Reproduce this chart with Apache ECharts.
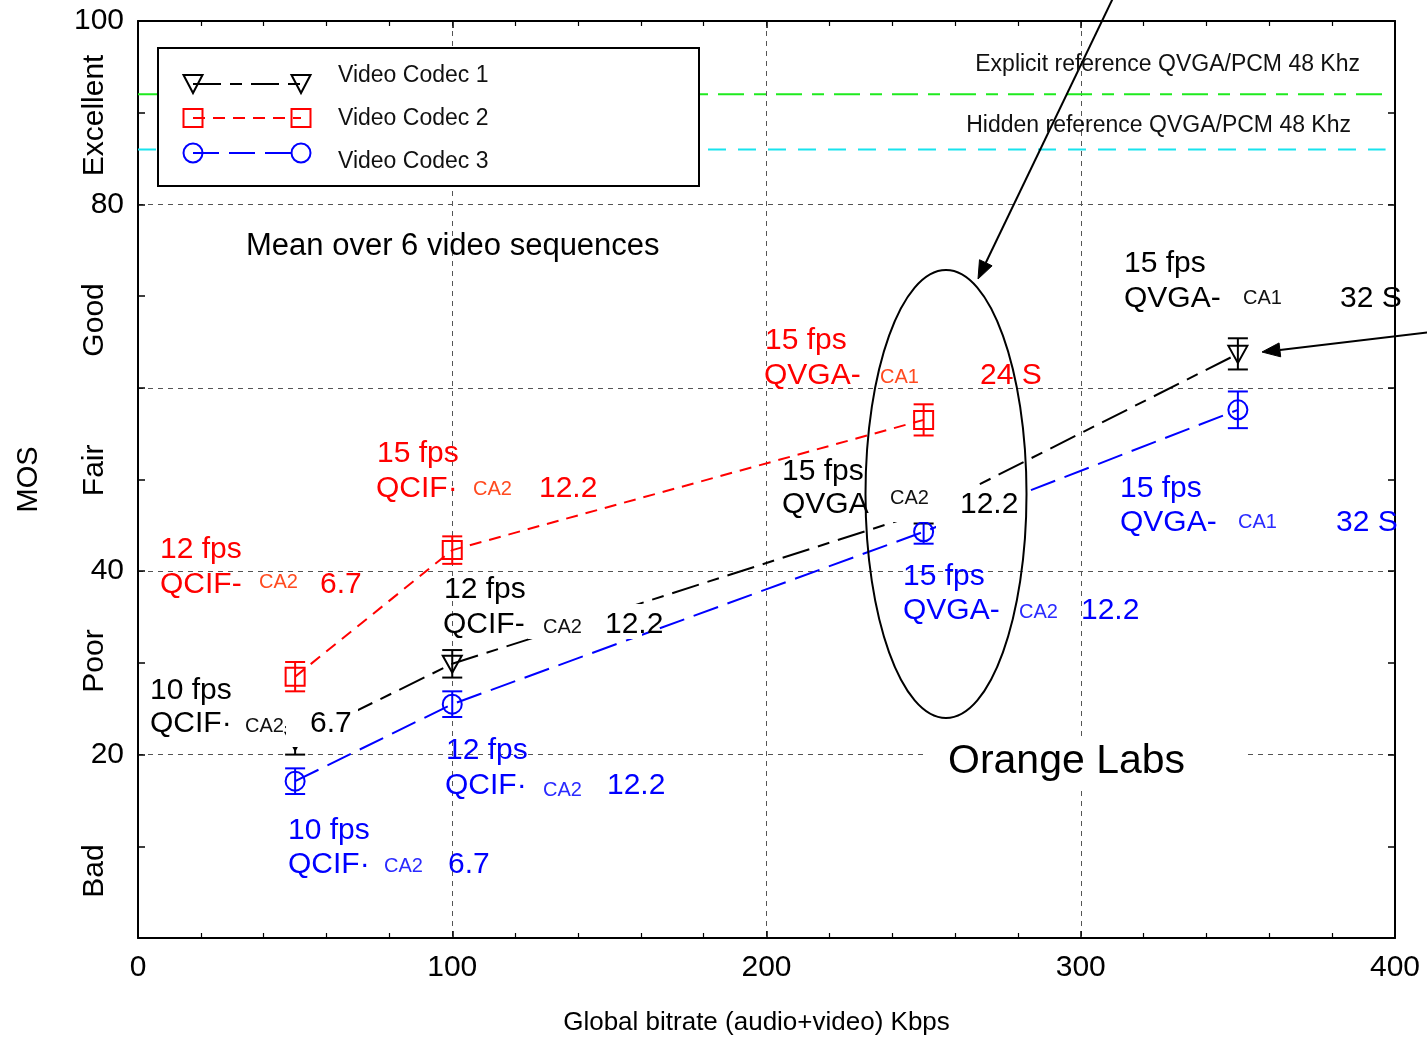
<!DOCTYPE html>
<html><head><meta charset="utf-8">
<script src="https://cdn.jsdelivr.net/npm/echarts@6/dist/echarts.min.js"></script>
<style>html,body{margin:0;padding:0;background:#fff}#c{width:1427px;height:1041px}</style>
</head><body><div id="c"></div>
<script>
// ---------- DATA ----------
const bitrate1 = [50, 100, 250, 350];
const codec1 = [21.5, 29.9, 46.4, 63.7];
const codec1Err = [1.5, 1.5, 1.2, 1.7];
const bitrate2 = [50, 100, 250];
const codec2 = [28.5, 42.3, 56.5];
const codec2Err = [1.6, 1.5, 1.7];
const bitrate3 = [50, 100, 250, 350];
const codec3 = [17.1, 25.5, 44.3, 57.6];
const codec3Err = [1.4, 1.4, 1.3, 2.0];
const explicitRef = 92;
const hiddenRef = 86;
const refSpan = [0, 397];
const seriesNames = ['Video Codec 1', 'Video Codec 2', 'Video Codec 3'];
const yTickShown = [20, 40, 80, 100];
const qualityLabels = ['Excellent', 'Good', 'Fair', 'Poor', 'Bad'];
const qualityLevels = [89.7, 67.4, 51.0, 30.2, 7.3];

// ---------- STYLE / LAYOUT ----------
const FONT = '"Liberation Sans", Arial, Helvetica, sans-serif';
const RED = '#ff0000', BLUE = '#0000ff', BLACK = '#000000';
const dash1 = [28, 9, 12, 9], dash2 = [12, 8], dash3 = [26, 10];

const chart = echarts.init(document.getElementById('c'), null, {renderer: 'canvas'});

function pairs(xs, ys) { return xs.map((x, i) => [x, ys[i]]); }

function markerSeries(name, xs, ys, errs, color, shape) {
  return {
    type: 'custom', name: name, z: 4, silent: true,
    data: xs.map((x, i) => [x, ys[i], errs[i]]),
    renderItem: function (params, api) {
      const x = api.value(0), y = api.value(1), e = api.value(2);
      const c = api.coord([x, y]), t = api.coord([x, y + e]), b = api.coord([x, y - e]);
      const cw = 10, st = {stroke: color, lineWidth: 2, fill: 'none'};
      const ch = [
        {type: 'line', shape: {x1: c[0], y1: t[1], x2: c[0], y2: b[1]}, style: st},
        {type: 'line', shape: {x1: c[0] - cw, y1: t[1], x2: c[0] + cw, y2: t[1]}, style: st},
        {type: 'line', shape: {x1: c[0] - cw, y1: b[1], x2: c[0] + cw, y2: b[1]}, style: st}
      ];
      if (shape === 'circle') ch.push({type: 'circle', shape: {cx: c[0], cy: c[1], r: 9.5}, style: st});
      else if (shape === 'rect') ch.push({type: 'rect', shape: {x: c[0] - 9.5, y: c[1] - 9, width: 19, height: 18}, style: st});
      else ch.push({type: 'polygon', shape: {points: [[c[0] - 9.5, c[1] - 8], [c[0] + 9.5, c[1] - 8], [c[0], c[1] + 9]]}, style: st});
      return {type: 'group', children: ch};
    }
  };
}

const option = {
  backgroundColor: '#fff',
  animation: false,
  grid: {left: 138, right: 32, top: 21, bottom: 97, containLabel: false},
  xAxis: [{
    type: 'value', min: 0, max: 400, interval: 100, position: 'bottom',
    axisLine: {show: true, onZero: false, lineStyle: {color: '#000', width: 2}},
    axisTick: {show: true, inside: true, length: 7, lineStyle: {color: '#000', width: 1.5}},
    minorTick: {show: true, splitNumber: 5, length: 5, lineStyle: {color: '#000', width: 1.2}},
    axisLabel: {fontSize: 30, color: '#000', margin: 15, fontFamily: FONT},
    splitLine: {show: true, lineStyle: {type: [5, 5], color: '#555', width: 1}},
    name: 'Global bitrate (audio+video) Kbps', nameLocation: 'middle', nameGap: 72,
    nameTextStyle: {fontSize: 26, color: '#000', fontFamily: FONT, padding: [0, 20, 0, 0]}
  }, {
    type: 'value', min: 0, max: 400, interval: 100, position: 'top',
    axisLine: {show: true, onZero: false, lineStyle: {color: '#000', width: 2}},
    axisTick: {show: true, inside: true, length: 7, lineStyle: {color: '#000', width: 1.5}},
    minorTick: {show: true, splitNumber: 5, length: 5, lineStyle: {color: '#000', width: 1.2}},
    axisLabel: {show: false}, splitLine: {show: false}
  }],
  yAxis: [{
    type: 'value', min: 0, max: 100, interval: 20, position: 'left',
    axisLine: {show: true, onZero: false, lineStyle: {color: '#000', width: 2}},
    axisTick: {show: true, inside: true, length: 7, lineStyle: {color: '#000', width: 1.5}},
    minorTick: {show: true, splitNumber: 2, length: 7, lineStyle: {color: '#000', width: 1.5}},
    axisLabel: {fontSize: 30, color: '#000', margin: 14, fontFamily: FONT,
      formatter: v => yTickShown.indexOf(v) >= 0 ? String(v) : ''},
    splitLine: {show: true, lineStyle: {type: [5, 5], color: '#555', width: 1}},
    name: 'MOS', nameLocation: 'middle', nameGap: 95,
    nameTextStyle: {fontSize: 29, color: '#000', fontFamily: FONT}
  }, {
    type: 'value', min: 0, max: 100, interval: 20, position: 'right',
    axisLine: {show: true, onZero: false, lineStyle: {color: '#000', width: 2}},
    axisTick: {show: true, inside: true, length: 7, lineStyle: {color: '#000', width: 1.5}},
    minorTick: {show: true, splitNumber: 2, length: 7, lineStyle: {color: '#000', width: 1.5}},
    axisLabel: {show: false}, splitLine: {show: false}
  }],
  series: [
    {type: 'line', name: 'Explicit reference', data: [[refSpan[0], explicitRef], [refSpan[1], explicitRef]],
     symbol: 'none', silent: true, z: 1, lineStyle: {color: '#1fea1f', width: 2, type: [26, 10, 12, 10]}},
    {type: 'line', name: 'Hidden reference', data: [[refSpan[0], hiddenRef], [refSpan[1], hiddenRef]],
     symbol: 'none', silent: true, z: 1, lineStyle: {color: '#19e3ee', width: 2, type: [18, 12]}},
    {type: 'line', name: seriesNames[0], data: pairs(bitrate1, codec1), symbol: 'none', z: 2,
     lineStyle: {color: BLACK, width: 2, type: dash1}},
    {type: 'line', name: seriesNames[1], data: pairs(bitrate2, codec2), symbol: 'none', z: 2,
     lineStyle: {color: RED, width: 2, type: dash2}},
    {type: 'line', name: seriesNames[2], data: pairs(bitrate3, codec3), symbol: 'none', z: 2,
     lineStyle: {color: BLUE, width: 2, type: dash3}},
    markerSeries(seriesNames[0] + ' markers', bitrate1, codec1, codec1Err, BLACK, 'triangle'),
    markerSeries(seriesNames[1] + ' markers', bitrate2, codec2, codec2Err, RED, 'rect'),
    markerSeries(seriesNames[2] + ' markers', bitrate3, codec3, codec3Err, BLUE, 'circle')
  ]
};
chart.setOption(option);

// ---------- ANNOTATIONS ----------
const g = [];
function txt(s, x, y, size, color, align) {
  g.push({type: 'text', x: x, y: y, z: 120, silent: true,
    style: {text: s, fontSize: size, fontFamily: FONT, fill: color,
            align: align || 'left', textAlign: align || 'left', verticalAlign: 'middle', textVerticalAlign: 'middle'}});
}
function whiteBox(x0, y0, x1, y1) {
  g.push({type: 'rect', z: 110, silent: true, shape: {x: x0, y: y0, width: x1 - x0, height: y1 - y0},
          style: {fill: '#fff', stroke: null}});
}
// boxes hiding parts of lines, as in the original figure
whiteBox(286, 706, 358, 747);
whiteBox(528, 604, 642, 639);
whiteBox(882, 486, 936, 522);
whiteBox(936, 486, 1025, 528);
whiteBox(925, 740, 1247, 786);

const CA_RED = '#ff4a1f', CA_BLUE = '#2a2aff', CA_BLACK = '#111';
const labels = [
  // red
  ['12 fps', 160, 550, 30, RED], ['QCIF-', 160, 585, 30, RED], ['CA2', 259, 582, 20, CA_RED], ['6.7', 320, 585, 30, RED],
  ['15 fps', 377, 454, 30, RED], ['QCIF·', 376, 489, 30, RED], ['CA2', 473, 489, 20, CA_RED], ['12.2', 539, 489, 30, RED],
  ['15 fps', 765, 341, 30, RED], ['QVGA-', 764, 376, 30, RED], ['CA1', 880, 377, 20, CA_RED], ['24 S', 980, 376, 30, RED],
  // black
  ['15 fps', 1124, 264, 30, BLACK], ['QVGA-', 1124, 299, 30, BLACK], ['CA1', 1243, 298, 20, CA_BLACK], ['32 S', 1340, 299, 30, BLACK],
  ['15 fps', 782, 472, 30, BLACK], ['QVGA', 782, 505, 30, BLACK], ['CA2', 890, 498, 20, CA_BLACK], ['12.2', 960, 505, 30, BLACK],
  ['12 fps', 444, 590, 30, BLACK], ['QCIF-', 443, 625, 30, BLACK], ['CA2', 543, 627, 20, CA_BLACK], ['12.2', 605, 625, 30, BLACK],
  ['10 fps', 150, 691, 30, BLACK], ['QCIF·', 150, 724, 30, BLACK], ['CA2', 245, 726, 20, CA_BLACK], ['6.7', 310, 724, 30, BLACK],
  // blue
  ['15 fps', 1120, 489, 30, BLUE], ['QVGA-', 1120, 523, 30, BLUE], ['CA1', 1238, 522, 20, CA_BLUE], ['32 S', 1336, 523, 30, BLUE],
  ['15 fps', 903, 577, 30, BLUE], ['QVGA-', 903, 611, 30, BLUE], ['CA2', 1019, 612, 20, CA_BLUE], ['12.2', 1081, 611, 30, BLUE],
  ['12 fps', 446, 751, 30, BLUE], ['QCIF·', 445, 786, 30, BLUE], ['CA2', 543, 790, 20, CA_BLUE], ['12.2', 607, 786, 30, BLUE],
  ['10 fps', 288, 831, 30, BLUE], ['QCIF·', 288, 865, 30, BLUE], ['CA2', 384, 866, 20, CA_BLUE], ['6.7', 448, 865, 30, BLUE]
];
labels.forEach(l => txt(l[0], l[1], l[2], l[3], l[4]));

txt('Mean over 6 video sequences', 246, 246, 31, BLACK);
txt('Orange Labs', 948, 762, 41, BLACK);
txt('Explicit reference QVGA/PCM 48 Khz', 1360, 65, 23, '#111', 'right');
txt('Hidden reference QVGA/PCM 48 Khz', 1351, 126, 23, '#111', 'right');

// quality words on the left (rotated)
qualityLabels.forEach((q, i) => {
  const py = chart.convertToPixel({yAxisIndex: 0}, qualityLevels[i]);
  g.push({type: 'text', x: 95, y: py, rotation: Math.PI / 2, z: 120, silent: true,
    style: {text: q, fontSize: 30, fontFamily: FONT, fill: '#000', align: 'center', textAlign: 'center',
            verticalAlign: 'middle', textVerticalAlign: 'middle'}});
});

// legend box
g.push({type: 'rect', z: 100, silent: true, shape: {x: 158, y: 48, width: 541, height: 138},
        style: {fill: '#fff', stroke: '#000', lineWidth: 2}});
const legRows = [
  {y: 84, ty: 76, color: BLACK, dash: dash1, shape: 'triangle', name: seriesNames[0]},
  {y: 118, ty: 119, color: RED, dash: dash2, shape: 'rect', name: seriesNames[1]},
  {y: 153, ty: 162, color: BLUE, dash: dash3, shape: 'circle', name: seriesNames[2]}
];
legRows.forEach(r => {
  g.push({type: 'line', z: 105, silent: true, shape: {x1: 193, y1: r.y, x2: 301, y2: r.y},
          style: {stroke: r.color, lineWidth: 2, lineDash: r.dash}});
  [193, 301].forEach(cx => {
    const st = {stroke: r.color, lineWidth: 2, fill: 'none'};
    if (r.shape === 'circle') g.push({type: 'circle', z: 106, silent: true, shape: {cx: cx, cy: r.y, r: 9.5}, style: st});
    else if (r.shape === 'rect') g.push({type: 'rect', z: 106, silent: true, shape: {x: cx - 9.5, y: r.y - 9, width: 19, height: 18}, style: st});
    else g.push({type: 'polygon', z: 106, silent: true, shape: {points: [[cx - 9.5, r.y - 9], [cx + 9.5, r.y - 9], [cx, r.y + 9]]}, style: st});
  });
  txt(r.name, 338, r.ty, 23, '#111');
});

// ellipse
g.push({type: 'ellipse', z: 115, silent: true, shape: {cx: 946, cy: 494, rx: 80.5, ry: 224},
        style: {fill: 'none', stroke: '#000', lineWidth: 2}});

// arrows
function arrow(x0, y0, x1, y1) {
  const dx = x1 - x0, dy = y1 - y0, L = Math.hypot(dx, dy), ux = dx / L, uy = dy / L;
  const hl = 18, hw = 7;
  const bx = x1 - hl * ux, by = y1 - hl * uy;
  g.push({type: 'line', z: 115, silent: true, shape: {x1: x0, y1: y0, x2: bx, y2: by},
          style: {stroke: '#000', lineWidth: 2}});
  g.push({type: 'polygon', z: 115, silent: true,
          shape: {points: [[x1, y1], [bx - hw * uy, by + hw * ux], [bx + hw * uy, by - hw * ux]]},
          style: {fill: '#000', stroke: '#000', lineWidth: 1}});
}
arrow(1114, -4, 978, 279);
arrow(1432, 332, 1262, 352);

chart.setOption({graphic: {elements: g}});
</script>
</body></html>
